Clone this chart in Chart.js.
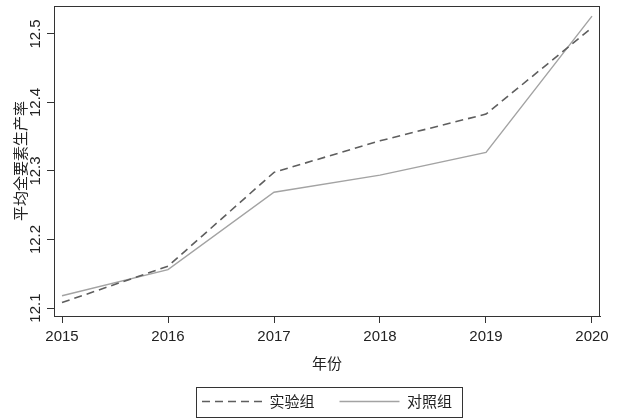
<!DOCTYPE html>
<html>
<head>
<meta charset="utf-8">
<script src="https://cdn.jsdelivr.net/npm/chart.js@4/dist/chart.umd.min.js"></script>
<style>
  html, body { margin: 0; padding: 0; background: #fff; }
  #wrap { width: 621px; height: 419px; }
</style>
</head>
<body>
<div id="wrap"><canvas id="myChart"></canvas></div>
<script>
const years = [2015, 2016, 2017, 2018, 2019, 2020]
const yTicks = [12.1, 12.2, 12.3, 12.4, 12.5]
const shiyan = [12.108, 12.161, 12.298, 12.344, 12.383, 12.509]
const duizhao = [12.118, 12.156, 12.269, 12.294, 12.327, 12.526]

const latin = "'Liberation Sans', Arial, sans-serif"
const cjk = "'Noto Sans CJK SC', sans-serif"
const ink = '#222'

// recuadro del area del grafico y del legend
const boxPlugin = {
    id: 'boxes',
    afterDraw(chart) {
        const c = chart.ctx
        const a = chart.chartArea
        c.save()
        c.strokeStyle = '#333'
        c.lineWidth = 1
        c.strokeRect(a.left + 0.5, a.top + 0.5, a.right - a.left - 1, a.bottom - a.top)
        const hb = chart.legend.legendHitBoxes
        if (hb && hb.length) {
            const first = hb[0], last = hb[hb.length - 1]
            const mid = first.top + first.height / 2
            const l = first.left - 6
            const r = last.left + last.width + 10
            c.strokeRect(Math.round(l) + 0.5, Math.round(mid - 15) + 0.5, Math.round(r - l), 30)
        }
        c.restore()
    }
}

const ctx = document.getElementById('myChart').getContext('2d')
new Chart(ctx, {
    type: 'line',
    data: {
        datasets: [{
            label: '实验组',
            data: years.map((y, i) => ({x: y, y: shiyan[i]})),
            borderColor: '#5e5e5e',
            backgroundColor: 'transparent',
            borderWidth: 1.6,
            borderDash: [8, 5],
            pointRadius: 0,
            pointStyle: 'line',
            tension: 0
        }, {
            label: '对照组',
            data: years.map((y, i) => ({x: y, y: duizhao[i]})),
            borderColor: '#a3a3a3',
            backgroundColor: 'transparent',
            borderWidth: 1.4,
            pointRadius: 0,
            pointStyle: 'line',
            tension: 0
        }]
    },
    options: {
        responsive: true,
        maintainAspectRatio: false,
        animation: false,
        layout: { padding: { left: 0, top: 5, right: 21, bottom: 0 } },
        plugins: {
            tooltip: { enabled: false },
            legend: {
                position: 'bottom',
                fullSize: false,
                labels: {
                    usePointStyle: true,
                    pointStyle: 'line',
                    pointStyleWidth: 60,
                    boxHeight: 15,
                    padding: 25,
                    color: ink,
                    font: { family: cjk, size: 15 },
                    generateLabels: chart => {
                        const items = Chart.defaults.plugins.legend.labels.generateLabels(chart)
                        items.forEach(it => {
                            const ds = chart.data.datasets[it.datasetIndex]
                            it.lineDash = ds.borderDash || []
                            it.strokeStyle = ds.borderColor
                            it.lineWidth = ds.borderWidth
                        })
                        return items
                    }
                }
            }
        },
        scales: {
            x: {
                type: 'linear',
                min: 2014.9245,
                max: 2020.0755,
                afterBuildTicks: s => { s.ticks = years.map(v => ({value: v})) },
                afterFit: s => { s.height = 53 },
                grid: { drawOnChartArea: false, tickLength: 7, color: '#333' },
                border: { display: true, color: '#333' },
                ticks: {
                    padding: 5,
                    color: ink,
                    maxRotation: 0,
                    font: { family: latin, size: 15 },
                    callback: v => String(v)
                },
                title: {
                    display: true,
                    text: '年份',
                    color: ink,
                    font: { family: cjk, size: 15 },
                    padding: { top: 0, bottom: -3 }
                }
            },
            y: {
                min: 12.0884,
                max: 12.5407,
                afterBuildTicks: s => { s.ticks = yTicks.map(v => ({value: v})) },
                afterFit: s => { s.width = 54 },
                grid: { drawOnChartArea: false, tickLength: 7, color: '#333' },
                border: { display: true, color: '#333' },
                ticks: {
                    minRotation: 90,
                    maxRotation: 90,
                    crossAlign: 'center',
                    padding: -3,
                    color: ink,
                    font: { family: latin, size: 15 },
                    callback: v => v.toFixed(1)
                },
                title: {
                    display: true,
                    text: '平均全要素生产率',
                    color: ink,
                    font: { family: cjk, size: 15 },
                    padding: { top: 11, bottom: 0 }
                }
            }
        }
    },
    plugins: [boxPlugin]
})
</script>
</body>
</html>
